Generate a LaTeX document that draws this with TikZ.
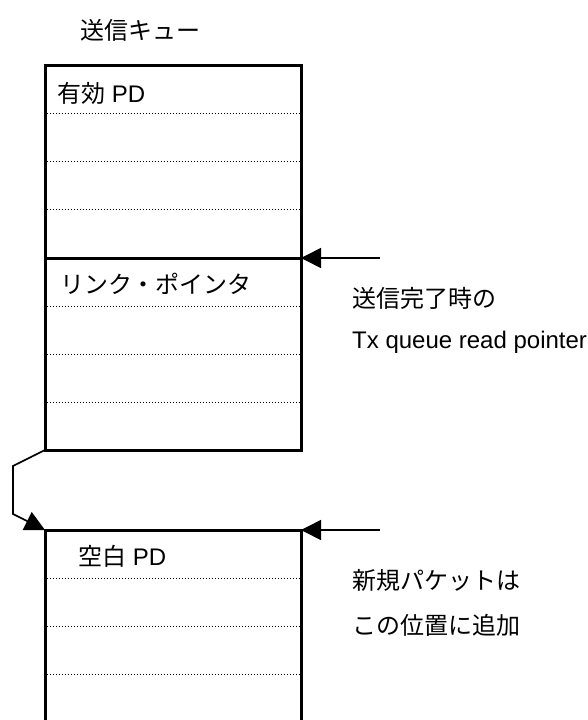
\documentclass[tikz,border=0pt]{standalone}
\usepackage{fontspec}
\setmainfont{Liberation Sans}
\newfontfamily\jp{Noto Sans CJK JP}
\usetikzlibrary{arrows.meta}
\begin{document}
\begin{tikzpicture}[x=1pt,y=-1pt,
  box/.style={draw, line width=3pt, anchor=north west, minimum width=256pt, outer sep=0pt, inner sep=0pt},
  sep/.style={line width=1pt, dash pattern=on 1pt off 2pt},
  ptr/.style={line width=1.6pt, -{Triangle[length=20pt,width=20pt]}},
  lbl/.style={anchor=west, inner sep=0pt, font=\fontsize{24}{28}\selectfont}]
\useasboundingbox (0,0) rectangle (588,720);
% boxes
\node[box, minimum height=193pt] (q1) at (45,65) {};
\node[box, minimum height=192pt] (q2) at (45,258) {};
\node[box, minimum height=205pt] (q3) at (45,530) {};
% dotted separators
\foreach \q in {q1,q2,q3}{
  \foreach \d in {48,96,144}{
    \draw[sep] ([yshift=-\d pt, xshift=1.5pt]\q.north west) -- ([yshift=-\d pt, xshift=-1.5pt]\q.north east);
  }
}
% texts
\node[lbl] (t0) at (80,30) {\jp 送信キュー};
\node[lbl] (t1) at (57,93) {{\jp 有効} PD};
\node[lbl] (t2) at (60,284) {\jp リンク・ポインタ};
\node[lbl] (t3) at (78,556) {{\jp 空白} PD};
\node[lbl] (t4) at (352,298) {\jp 送信完了時の};
\node[lbl] (t5) at (352,342) {Tx queue read pointer};
\node[lbl] (t6) at (352,580) {\jp 新規パケットは};
\node[lbl] (t7) at (352,625) {\jp この位置に追加};
% pointers
\coordinate (p1) at (380,258);
\coordinate (p2) at (380,530);
\draw[ptr] (p1) -- (q1.south east);
\draw[ptr] (p2) -- (q3.north east);
% link connector
\coordinate (c1) at (13,466);
\coordinate (c2) at (13,514);
\draw[ptr] (q2.south west) -- (c1) -- (c2) -- (q3.north west);
\end{tikzpicture}
\end{document}
